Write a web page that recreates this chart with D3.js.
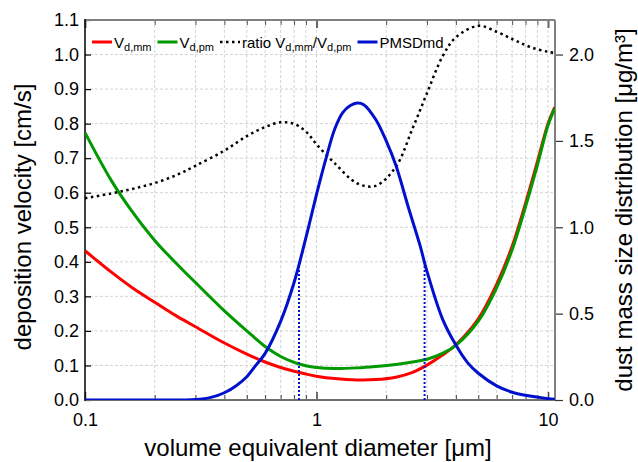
<!DOCTYPE html>
<html><head><meta charset="utf-8">
<script src="https://cdn.jsdelivr.net/npm/d3@7"></script>
<style>
html,body{margin:0;padding:0;background:#fff;}
svg{display:block;font-family:"Liberation Sans",Arial,sans-serif;}
</style></head>
<body><svg id="c" width="638" height="462"></svg>
<script>
// ---------- data ----------
const diam = [0.1,0.13,0.16,0.2,0.25,0.3,0.4,0.5,0.6,0.7,0.8,0.9,1.0,1.2,1.5,1.8,2.2,2.6,3.0,3.5,4.0,5.0,6.0,7.0,8.0,9.0,10.0,10.7];
const vdMM = [0.432,0.37,0.325,0.283,0.242,0.212,0.165,0.133,0.110,0.094,0.083,0.075,0.069,0.062,0.058,0.059,0.066,0.080,0.101,0.130,0.160,0.235,0.335,0.445,0.57,0.69,0.80,0.848];
const vdPM = [0.774,0.635,0.545,0.462,0.393,0.340,0.258,0.200,0.155,0.126,0.109,0.099,0.094,0.091,0.093,0.097,0.103,0.110,0.118,0.135,0.158,0.228,0.325,0.435,0.56,0.68,0.795,0.845];
const ratio = [0.584,0.598,0.611,0.628,0.652,0.678,0.722,0.764,0.790,0.804,0.799,0.777,0.740,0.685,0.627,0.620,0.675,0.786,0.888,0.994,1.050,1.083,1.066,1.045,1.027,1.015,1.008,1.004];
const diamB = [0.1,0.2,0.3,0.35,0.4,0.45,0.5,0.55,0.6,0.7,0.8,0.9,1.0,1.1,1.2,1.3,1.4,1.5,1.6,1.8,2.0,2.2,2.5,2.8,3.0,3.5,4.0,4.5,5.0,6.0,7.0,8.0,10.0,10.7];
const pmsd = [0,0,0.003,0.015,0.042,0.083,0.135,0.205,0.27,0.455,0.68,0.94,1.19,1.40,1.57,1.665,1.705,1.72,1.71,1.625,1.50,1.36,1.11,0.895,0.745,0.47,0.318,0.215,0.155,0.082,0.045,0.027,0.008,0.004];
const markD = [0.84, 2.93];
const markV = [0.78, 0.78];
const xMajor = [0.1, 1, 10];
const xMajorLabels = ["0.1", "1", "10"];
const xMinor = [0.2,0.3,0.4,0.5,0.6,0.7,0.8,0.9,2,3,4,5,6,7,8,9];
const yLeftTicks = [0,0.1,0.2,0.3,0.4,0.5,0.6,0.7,0.8,0.9,1.0,1.1];
const yRightTicks = [0,0.5,1.0,1.5,2.0];

// ---------- layout ----------
const L=85, R=555, T=20, B=400;
const svg = d3.select("#c");
const x = d3.scaleLog().domain([0.1, 10.72]).range([L, R]);
const yL = d3.scaleLinear().domain([0, 1.1]).range([B, T]);
const yR = d3.scaleLinear().domain([0, 2.2]).range([B, T]);
const FONT = 18;
const curve = d3.curveCatmullRom.alpha(0.5);

// grid
const grid = svg.append("g").attr("stroke", "#d4d4d4").attr("stroke-width", 1).attr("stroke-dasharray", "3,2");
grid.selectAll("line.v").data(xMinor.concat([1, 10])).join("line")
  .attr("x1", d => x(d)).attr("x2", d => x(d)).attr("y1", T).attr("y2", B);
grid.selectAll("line.h").data(yLeftTicks.filter(v => v > 0 && v < 1.1)).join("line")
  .attr("x1", L).attr("x2", R).attr("y1", d => yL(d)).attr("y2", d => yL(d));

// axes (ticks)
function styleAxis(g, col, w){ g.select(".domain").remove(); g.selectAll(".tick line").attr("stroke", col).attr("stroke-width", w); g.selectAll("text").attr("font-size", FONT).attr("fill", "#000").attr("font-family", "Liberation Sans, Arial, sans-serif"); }
svg.append("g").attr("transform", `translate(0,${B})`)
  .call(d3.axisBottom(x).tickValues(xMinor).tickSize(-5).tickFormat(""))
  .call(g => styleAxis(g, "#444", 1));
svg.append("g").attr("transform", `translate(0,${B})`)
  .call(d3.axisBottom(x).tickValues(xMajor).tickSize(-8).tickPadding(13).tickFormat((d, i) => xMajorLabels[i]))
  .call(g => styleAxis(g, "#444", 1.5));
svg.append("g").attr("transform", `translate(0,${T})`)
  .call(d3.axisTop(x).tickValues(xMinor).tickSize(-5).tickFormat(""))
  .call(g => styleAxis(g, "#555", 1));
svg.append("g").attr("transform", `translate(0,${T})`)
  .call(d3.axisTop(x).tickValues(xMajor).tickSize(-8).tickFormat(""))
  .call(g => styleAxis(g, "#666", 2));
svg.append("g").attr("transform", `translate(${L},0)`)
  .call(d3.axisLeft(yL).tickValues(yLeftTicks).tickSize(-6).tickPadding(6).tickFormat(d3.format(".1f")))
  .call(g => styleAxis(g, "#000", 1.2));
svg.append("g").attr("transform", `translate(${R},0)`)
  .call(d3.axisRight(yR).tickValues(yRightTicks).tickSize(8).tickPadding(6).tickFormat(d3.format(".1f")))
  .call(g => styleAxis(g, "#333", 1.2));

// frame
const fr = svg.append("g").attr("fill", "none");
fr.append("line").attr("x1", L).attr("x2", R).attr("y1", T).attr("y2", T).attr("stroke", "#808080").attr("stroke-width", 2);
fr.append("line").attr("x1", R).attr("x2", R).attr("y1", T).attr("y2", B).attr("stroke", "#808080").attr("stroke-width", 2);
fr.append("line").attr("x1", L).attr("x2", R).attr("y1", B).attr("y2", B).attr("stroke", "#707070").attr("stroke-width", 2);
fr.append("line").attr("x1", L).attr("x2", L).attr("y1", T-1).attr("y2", B+1).attr("stroke", "#000").attr("stroke-width", 1.5);

// series
svg.append("clipPath").attr("id", "pc").append("rect").attr("x", L).attr("y", T-5).attr("width", R-L).attr("height", B-T+5);
const plot = svg.append("g").attr("clip-path", "url(#pc)");
const lineL = vals => d3.line().curve(curve).x((d, i) => x(diam[i])).y(d => yL(d))(vals);
plot.append("path").attr("d", lineL(vdMM)).attr("fill", "none").attr("stroke", "#ff0000").attr("stroke-width", 3);
plot.append("path").attr("d", lineL(vdPM)).attr("fill", "none").attr("stroke", "#009900").attr("stroke-width", 3);
plot.append("path").attr("d", lineL(ratio)).attr("fill", "none").attr("stroke", "#000").attr("stroke-width", 2.5).attr("stroke-dasharray", "2.5,3.5");
plot.selectAll("line.mk").data(markD).join("line")
  .attr("x1", d => x(d)).attr("x2", d => x(d)).attr("y1", yR(0)).attr("y2", (d, i) => yR(markV[i]))
  .attr("stroke", "#0010cc").attr("stroke-width", 2).attr("stroke-dasharray", "2,2");
const lineB = d3.line().curve(curve).x((d, i) => x(diamB[i])).y(d => yR(d));
plot.append("path").attr("d", lineB(pmsd)).attr("fill", "none").attr("stroke", "#0010cc").attr("stroke-width", 3);

// legend
const legend = [
  {col: "#ff0000", dash: null, parts: [["V", 0], ["d,mm", 1]]},
  {col: "#009900", dash: null, parts: [["V", 0], ["d,pm", 1]]},
  {col: "#000", dash: "2.5,3.5", parts: [["ratio V", 0], ["d,mm", 1], ["/V", 0], ["d,pm", 1]]},
  {col: "#0010cc", dash: null, parts: [["PMSDmd", 0]]}
];
let lx = 92; const ly = 42;
legend.forEach(it => {
  svg.append("line").attr("x1", lx).attr("x2", lx + 20).attr("y1", ly).attr("y2", ly)
    .attr("stroke", it.col).attr("stroke-width", it.dash ? 2.5 : 3).attr("stroke-dasharray", it.dash);
  const t = svg.append("text").attr("x", lx + 22).attr("y", ly + 5.5).attr("font-size", 15);
  let prevSub = 0;
  it.parts.forEach(([s, sub]) => {
    t.append("tspan").text(s).attr("font-size", sub ? 11 : 15).attr("dy", sub ? (prevSub ? 0 : 3) : (prevSub ? -3 : 0));
    prevSub = sub;
  });
  lx += 22 + t.node().getComputedTextLength() + 6;
});

// axis titles
svg.append("text").attr("transform", `translate(31,${(T+B)/2+7}) rotate(-90)`).attr("text-anchor", "middle")
  .attr("font-size", 24).text("deposition velocity [cm/s]");
svg.append("text").attr("transform", `translate(632,${(T+B)/2}) rotate(-90)`).attr("text-anchor", "middle")
  .attr("font-size", 24).text("dust mass size distribution [μg/m³]");
svg.append("text").attr("x", 318).attr("y", 456).attr("text-anchor", "middle")
  .attr("font-size", 24).text("volume equivalent diameter [μm]");
</script></body></html>
